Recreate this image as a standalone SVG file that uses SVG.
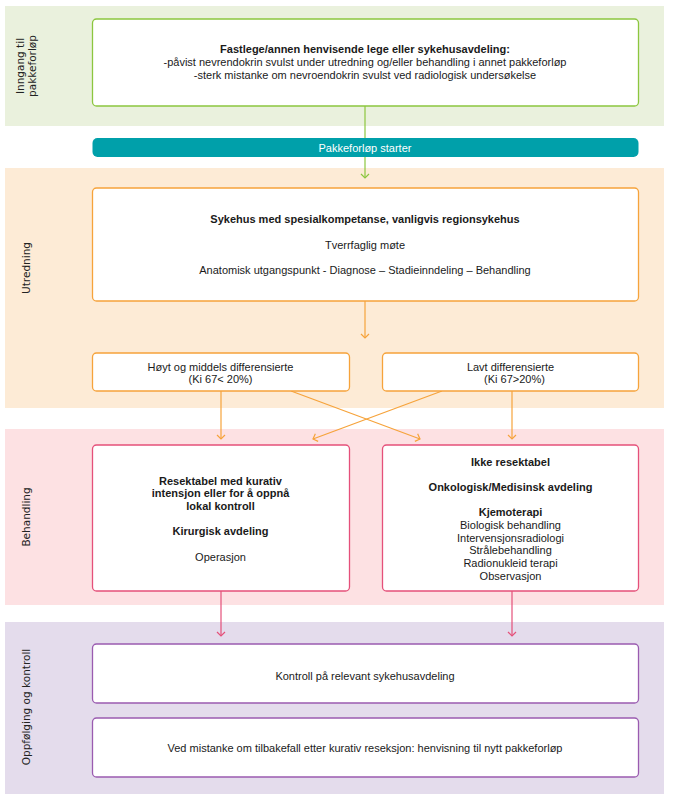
<svg xmlns="http://www.w3.org/2000/svg" width="677" height="796" viewBox="0 0 677 796">
<style>
.t{font-family:"Liberation Sans",Arial,sans-serif;font-size:11px;fill:#1a1a1a;text-anchor:middle}
.b{font-weight:bold}
.lab{font-family:"DejaVu Sans",Verdana,sans-serif;font-size:10.5px;fill:#222;text-anchor:middle}
.box{fill:#fff;stroke-width:1.3}
.g{stroke:#8cc63f}.o{stroke:#f6a33b}.p{stroke:#e5507a}.v{stroke:#9a5bb0}
.c{fill:none;stroke-width:1.2}
</style>
<defs>
<marker id="ag" markerWidth="10" markerHeight="10" refX="5" refY="5" viewBox="0 0 10 10" markerUnits="userSpaceOnUse" orient="auto"><path d="M1,1 L5,5 L1,9" fill="none" stroke="#8cc63f" stroke-width="1.2"/></marker>
<marker id="ao" markerWidth="10" markerHeight="10" refX="5" refY="5" viewBox="0 0 10 10" markerUnits="userSpaceOnUse" orient="auto"><path d="M1,1 L5,5 L1,9" fill="none" stroke="#f6a33b" stroke-width="1.2"/></marker>
<marker id="ap" markerWidth="10" markerHeight="10" refX="5" refY="5" viewBox="0 0 10 10" markerUnits="userSpaceOnUse" orient="auto"><path d="M1,1 L5,5 L1,9" fill="none" stroke="#e5507a" stroke-width="1.2"/></marker>
</defs>
<g id="bands">
<rect x="5" y="6" width="659" height="120" fill="#eaf1dd"/>
<rect x="5" y="168" width="659" height="240" fill="#fdebd6"/>
<rect x="5" y="429" width="659" height="176" fill="#fde1e3"/>
<rect x="5" y="622" width="659" height="172" fill="#e4dcec"/>
<text class="lab" transform="translate(24,66) rotate(-90)">Inngang til</text>
<text class="lab" transform="translate(36,66) rotate(-90)">pakkeforløp</text>
<text class="lab" transform="translate(30,268) rotate(-90)">Utredning</text>
<text class="lab" transform="translate(30,517) rotate(-90)">Behandling</text>
<text class="lab" transform="translate(30,707) rotate(-90)">Oppfølging og kontroll</text>
</g>
<g id="connectors">
<line class="c" x1="365" y1="106" x2="365" y2="178" stroke="#8cc63f" marker-end="url(#ag)"/>
<line class="c" x1="365" y1="301" x2="365" y2="338" stroke="#f6a33b" marker-end="url(#ao)"/>
<line class="c" x1="221" y1="391" x2="221" y2="439" stroke="#f6a33b" marker-end="url(#ao)"/>
<line class="c" x1="291" y1="391" x2="420" y2="439" stroke="#f6a33b" marker-end="url(#ao)"/>
<line class="c" x1="442" y1="391" x2="313" y2="439" stroke="#f6a33b" marker-end="url(#ao)"/>
<line class="c" x1="512" y1="391" x2="512" y2="439" stroke="#f6a33b" marker-end="url(#ao)"/>
<line class="c" x1="221" y1="591" x2="221" y2="636" stroke="#e5507a" marker-end="url(#ap)"/>
<line class="c" x1="512" y1="591" x2="512" y2="636" stroke="#e5507a" marker-end="url(#ap)"/>
</g>
<g id="n-inngang">
<rect class="box g" x="92.5" y="19" width="546" height="87" rx="4"/>
<text class="t b" x="365" y="53">Fastlege/annen henvisende lege eller sykehusavdeling:</text>
<text class="t" x="365" y="66">-påvist nevrendokrin svulst under utredning og/eller behandling i annet pakkeforløp</text>
<text class="t" x="365" y="79">-sterk mistanke om nevroendokrin svulst ved radiologisk undersøkelse</text>
</g>
<g id="n-start">
<rect x="92.5" y="138" width="546" height="19" rx="5" fill="#00a0aa"/>
<text class="t" x="365" y="152" style="fill:#fff">Pakkeforløp starter</text>
</g>
<g id="n-utredning">
<rect class="box o" x="92.5" y="188" width="546" height="113" rx="4"/>
<text class="t b" x="365" y="223">Sykehus med spesialkompetanse, vanligvis regionsykehus</text>
<text class="t" x="365" y="249">Tverrfaglig møte</text>
<text class="t" x="365" y="274">Anatomisk utgangspunkt - Diagnose – Stadieinndeling – Behandling</text>
</g>
<g id="n-hoyt">
<rect class="box o" x="92.5" y="353" width="257" height="38" rx="4"/>
<text class="t" x="220.5" y="371">Høyt og middels differensierte</text>
<text class="t" x="220.5" y="383">(Ki 67&lt; 20%)</text>
</g>
<g id="n-lavt">
<rect class="box o" x="382.5" y="353" width="256" height="38" rx="4"/>
<text class="t" x="510.5" y="371">Lavt differensierte</text>
<text class="t" x="514.5" y="383">(Ki 67&gt;20%)</text>
</g>
<g id="n-resektabel">
<rect class="box p" x="92.5" y="445" width="257" height="146" rx="4"/>
<text class="t b" x="220.5" y="485">Resektabel med kurativ</text>
<text class="t b" x="220.5" y="497">intensjon eller for å oppnå</text>
<text class="t b" x="220.5" y="510">lokal kontroll</text>
<text class="t b" x="220.5" y="535">Kirurgisk avdeling</text>
<text class="t" x="220.5" y="561">Operasjon</text>
</g>
<g id="n-ikke">
<rect class="box p" x="382.5" y="445" width="256" height="146" rx="4"/>
<text class="t b" x="510.5" y="466">Ikke resektabel</text>
<text class="t b" x="510.5" y="491">Onkologisk/Medisinsk avdeling</text>
<text class="t b" x="510.5" y="516">Kjemoterapi</text>
<text class="t" x="510.5" y="529">Biologisk behandling</text>
<text class="t" x="510.5" y="542">Intervensjonsradiologi</text>
<text class="t" x="510.5" y="554">Strålebehandling</text>
<text class="t" x="510.5" y="567">Radionukleid terapi</text>
<text class="t" x="510.5" y="580">Observasjon</text>
</g>
<g id="n-kontroll">
<rect class="box v" x="92.5" y="644" width="546" height="59" rx="4"/>
<text class="t" x="365" y="680">Kontroll på relevant sykehusavdeling</text>
</g>
<g id="n-tilbakefall">
<rect class="box v" x="92.5" y="718" width="546" height="59" rx="4"/>
<text class="t" x="365" y="752">Ved mistanke om tilbakefall etter kurativ reseksjon: henvisning til nytt pakkeforløp</text>
</g>
</svg>
